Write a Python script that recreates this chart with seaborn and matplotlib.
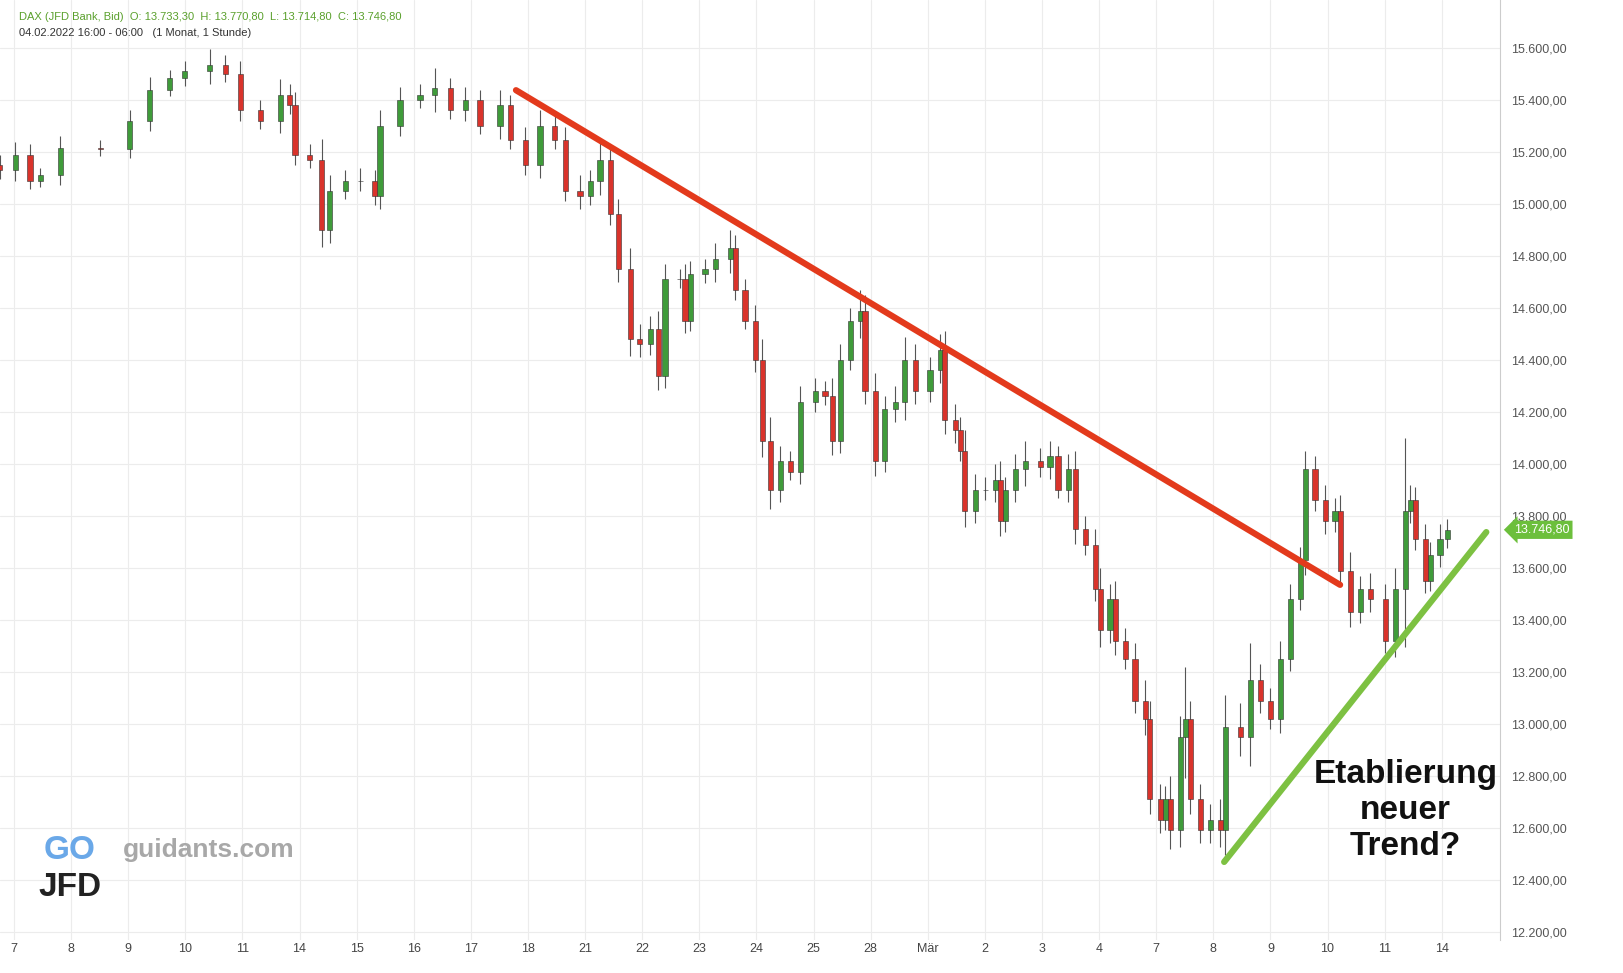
import matplotlib
matplotlib.use("Agg")
import matplotlib.pyplot as plt
import matplotlib.ticker as mticker
import numpy as np
import pandas as pd
import seaborn as sns

# time in trading-day units (0 = Feb 7), closes in index points
t = [-0.25,0.02,0.28,0.46,0.81,1.51,2.03,2.38,2.73,2.99,3.43,3.70,3.96,4.31,4.66,4.83,4.92,5.18,5.39,5.53,
     5.80,6.06,6.32,6.41,6.76,7.11,7.37,7.64,7.90,8.16,8.51,8.69,8.95,9.21,9.47,9.65,9.91,10.09,10.26,10.44,
     10.58,10.79,10.96,11.14,11.28,11.40,11.66,11.75,11.84,12.10,12.28,12.54,12.63,12.80,12.98,13.10,13.24,13.42,13.59,13.77,
     14.03,14.20,14.33,14.47,14.64,14.82,14.90,15.08,15.25,15.43,15.60,15.78,16.04,16.22,16.30,16.48,16.57,16.65,16.83,17.01,
     17.18,17.27,17.36,17.53,17.71,17.97,18.14,18.28,18.46,18.58,18.76,18.93,19.02,19.19,19.28,19.46,19.63,19.81,19.89,20.07,
     20.16,20.25,20.42,20.51,20.60,20.77,20.95,21.12,21.21,21.47,21.65,21.82,22.00,22.17,22.35,22.52,22.61,22.78,22.96,23.13,
     23.22,23.40,23.57,23.75,24.01,24.19,24.36,24.45,24.54,24.71,24.80,24.97,25.10]
close = [15130,15190,15090,15110,15215,15210,15320,15440,15485,15510,15535,15500,15360,15320,15420,15380,15190,15170,14900,15050,
         15090,15090,15030,15300,15400,15420,15445,15360,15400,15300,15380,15245,15150,15300,15245,15050,15030,15090,15170,14960,
         14750,14480,14460,14520,14340,14710,14710,14550,14730,14750,14790,14830,14670,14550,14400,14090,13900,14010,13970,14240,
         14280,14260,14090,14400,14550,14590,14280,14010,14210,14240,14400,14280,14360,14440,14170,14130,14050,13820,13900,13900,
         13940,13780,13900,13980,14010,13990,14030,13900,13980,13750,13690,13520,13360,13480,13320,13250,13090,13020,12710,12630,
         12710,12590,12950,13020,12710,12590,12630,12590,12990,12950,13170,13090,13020,13250,13480,13630,13980,13860,13780,13820,
         13590,13430,13520,13480,13320,13520,13820,13860,13710,13550,13650,13710,13747]
wick = [40,50,40,30,45,30,40,50,30,40,60,40,50,40,60,40,50,40,80,60,
        40,50,40,60,50,40,80,40,50,40,60,40,50,60,40,50,60,40,70,50,
        60,80,60,50,70,60,40,60,50,40,60,70,50,40,60,80,90,60,40,60,
        50,40,70,60,50,80,60,70,50,60,90,60,50,60,70,60,50,80,60,50,
        60,70,50,60,80,50,60,40,60,70,50,60,80,60,70,50,60,80,70,60,
        50,90,80,200,70,60,60,80,120,90,140,60,50,70,60,50,70,50,60,50,
        60,70,50,60,60,80,280,60,50,60,50,60,40]

tick_days = ["7","8","9","10","11","14","15","16","17","18","21","22","23","24","25","28","Mär","2","3","4","7","8","9","10","11","14"]
yticks = np.arange(12200, 15601, 200)
red_line_t, red_line_v = [8.79, 23.22], [15438, 13535]
green_line_t, green_line_v = [21.19, 25.78], [12469, 13738]
last_price = 13746.80


def de_fmt(v, p=None):
    return f"{v:,.2f}".replace(",", "X").replace(".", ",").replace("X", ".")


df = pd.DataFrame({"t": t, "close": close, "wick": wick})
df["open"] = df["close"].shift(1).fillna(15150)
df["high"] = df[["open", "close"]].max(axis=1) + df["wick"]
df["low"] = df[["open", "close"]].min(axis=1) - df["wick"] * 0.8
up = df["close"] >= df["open"]

sns.set_style("white")
plt.rcParams["font.family"] = ["Liberation Sans", "DejaVu Sans"]
fig = plt.figure(figsize=(16.23, 9.73), dpi=100)
ax = fig.add_axes([0, 0.034, 1500 / 1623, 0.966])

GREEN, RED = "#3f9b3a", "#d9332b"
ax.vlines(df["t"], df["low"], df["high"], color="#555555", lw=0.8, zorder=2)
ax.bar(df["t"][up], (df["close"] - df["open"])[up], bottom=df["open"][up], width=0.09,
       color=GREEN, edgecolor="#333333", lw=0.4, zorder=3)
ax.bar(df["t"][~up], (df["close"] - df["open"])[~up], bottom=df["open"][~up], width=0.09,
       color=RED, edgecolor="#333333", lw=0.4, zorder=3)

sns.lineplot(x=red_line_t, y=red_line_v, ax=ax, color="#e33a1c", lw=4.5, zorder=4)
sns.lineplot(x=green_line_t, y=green_line_v, ax=ax, color="#7dc142", lw=4.5, zorder=4)

ax.set_xlim(-0.245, 26.02)
ax.set_ylim(12169, 15785)
ax.set_xticks(range(len(tick_days)))
ax.set_xticklabels(tick_days, fontsize=9, color="#444444")
ax.set_yticks(yticks)
ax.yaxis.tick_right()
ax.yaxis.set_major_formatter(mticker.FuncFormatter(de_fmt))
ax.tick_params(axis="y", labelsize=9, labelcolor="#555555", length=0, pad=8)
ax.tick_params(axis="x", length=0, pad=2)
ax.grid(True, color="#ececec", lw=0.8)
for s in ["top", "left", "bottom"]:
    ax.spines[s].set_visible(False)
ax.spines["right"].set_color("#cccccc")

ax.annotate(de_fmt(last_price), xy=(1.0, last_price), xycoords=("axes fraction", "data"), xytext=(10, 0),
            textcoords="offset points", va="center", ha="left", fontsize=9, color="white",
            bbox=dict(boxstyle="larrow,pad=0.25", fc="#6cbf3c", ec="none"), annotation_clip=False)

fig.text(0.012, 0.988, "DAX (JFD Bank, Bid)  O: 13.733,30  H: 13.770,80  L: 13.714,80  C: 13.746,80",
         fontsize=8, color="#5aa02c", va="top")
fig.text(0.012, 0.971, "04.02.2022 16:00 - 06:00   (1 Monat, 1 Stunde)", fontsize=8, color="#333333", va="top")
ax.text(0.937, 0.138, "Etablierung\nneuer\nTrend?", transform=ax.transAxes, ha="center", va="center",
        fontsize=24, fontweight="bold", color="#111111", linespacing=1.2)
fig.text(0.076, 0.126, "guidants.com", fontsize=19, color="#a8a8a8", fontweight="bold", va="center")
fig.text(0.043, 0.088, "JFD", fontsize=24, color="#222222", fontweight="bold", ha="center", va="center")
fig.text(0.043, 0.126, "GO", fontsize=24, color="#6aa8e8", fontweight="bold", ha="center", va="center")

fig.savefig("out.png", dpi=100)
